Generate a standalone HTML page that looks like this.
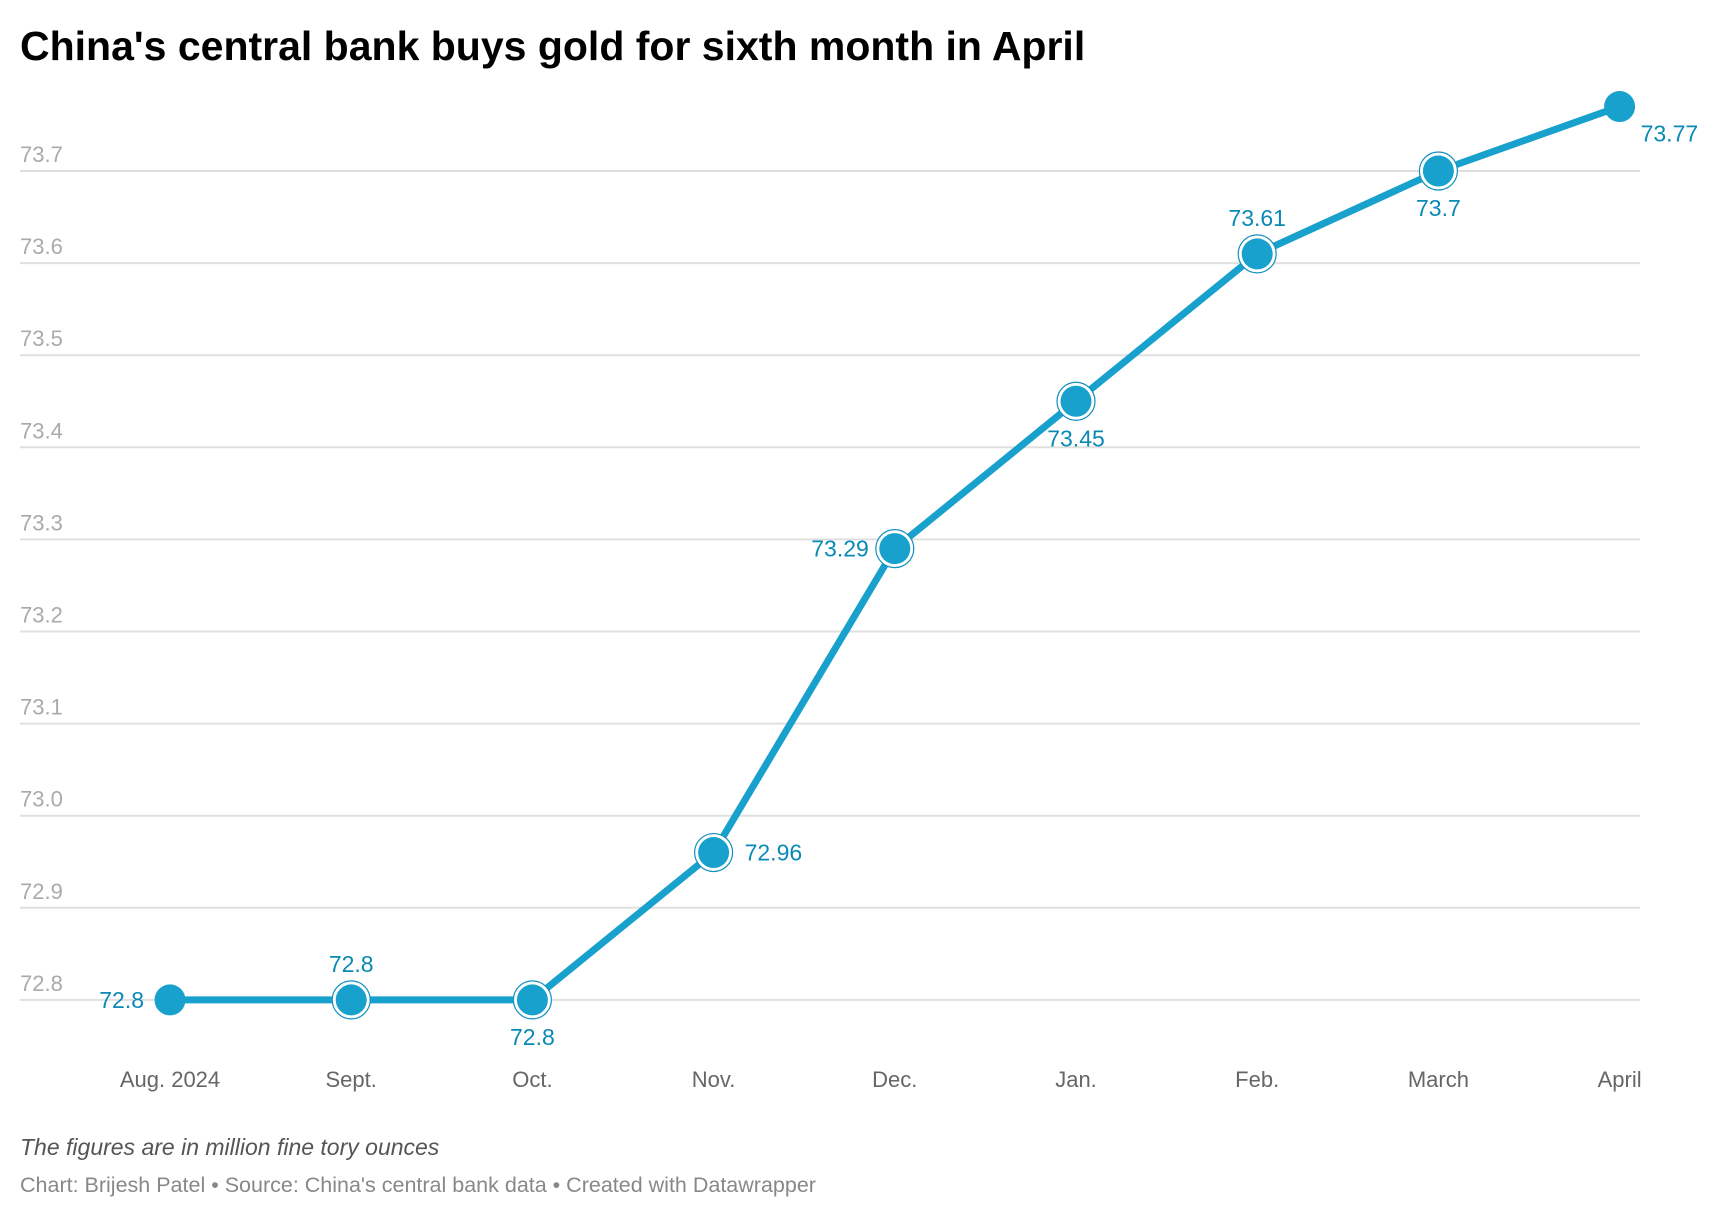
<!DOCTYPE html>
<html><head><meta charset="utf-8"><style>
body{margin:0;background:#fff;width:1720px;height:1218px;overflow:hidden;font-family:"Liberation Sans",sans-serif}
</style></head><body>
<svg width="1720" height="1218" style="position:absolute;left:0;top:0">
<text x="20" y="60" font-size="41" font-weight="bold" fill="#000">China's central bank buys gold for sixth month in April</text>
<g id="grid"></g><g id="xax"></g><g id="series"></g>
<text x="20" y="1155" font-size="23" font-style="italic" fill="#555">The figures are in million fine tory ounces</text>
<text x="20" y="1192" font-size="21.5" fill="#888">Chart: Brijesh Patel • Source: China's central bank data • Created with Datawrapper</text>
</svg>
<script>
const categories=["Aug. 2024","Sept.","Oct.","Nov.","Dec.","Jan.","Feb.","March","April"];
const values=[72.8,72.8,72.8,72.96,73.29,73.45,73.61,73.7,73.77];
const yTicks=[72.8,72.9,73.0,73.1,73.2,73.3,73.4,73.5,73.6,73.7];
const labelPos=["left","above","below","right","left","below","above","below","rightbelow"];
const NS="http://www.w3.org/2000/svg";
const x=i=>170+i*181.2;
const y=v=>171+(73.7-v)*921;
function mk(p,t,a){const e=document.createElementNS(NS,t);for(const k in a)e.setAttribute(k,a[k]);p.appendChild(e);return e;}
const grid=document.getElementById('grid');
yTicks.forEach(t=>{
 const l=mk(grid,'line',{x1:20,x2:1640,y1:y(t),y2:y(t),stroke:'#e0e0e0','stroke-width':2});
 
 
 const tx=mk(grid,'text',{x:20,y:y(t)-9,'font-size':22,fill:'#aaa'});
 tx.textContent=t.toFixed(1);
 
 
});
const xax=document.getElementById('xax');
categories.forEach((c,i)=>{
 const t=mk(xax,'text',{x:x(i),y:1087,'font-size':22,fill:'#666','text-anchor':'middle'});
 t.textContent=c;
 
 
});
const s=document.getElementById('series');
const line=mk(s,'polyline',{points:values.map((v,i)=>x(i)+','+y(v)).join(' '),fill:'none',stroke:'#18a1cd','stroke-width':7,'stroke-linejoin':'round'});


values.forEach((v,i)=>{
 const cx=x(i),cy=y(v);
 if(i>0&&i<values.length-1){
  const r=mk(s,'circle',{cx,cy,r:19,fill:'#fff',stroke:'#1590bd','stroke-width':1.2});
  
  
 }
 const c=mk(s,'circle',{cx,cy,r:15.5,fill:'#18a1cd'});
 
 
 const p=labelPos[i];let lx=cx,ly=cy+8,anc='middle';
 if(p==='left'){lx=cx-26;anc='end';}
 if(p==='right'){lx=cx+31;anc='start';}
 if(p==='above'){ly=cy-28;}
 if(p==='below'){ly=cy+45;}
 if(p==='rightbelow'){lx=cx+21;ly=cy+35;anc='start';}
 const t=mk(s,'text',{x:lx,y:ly,'font-size':23,fill:'#0b89b5','text-anchor':anc});
 t.textContent=String(v);
 
 
});
</script>
</body></html>
